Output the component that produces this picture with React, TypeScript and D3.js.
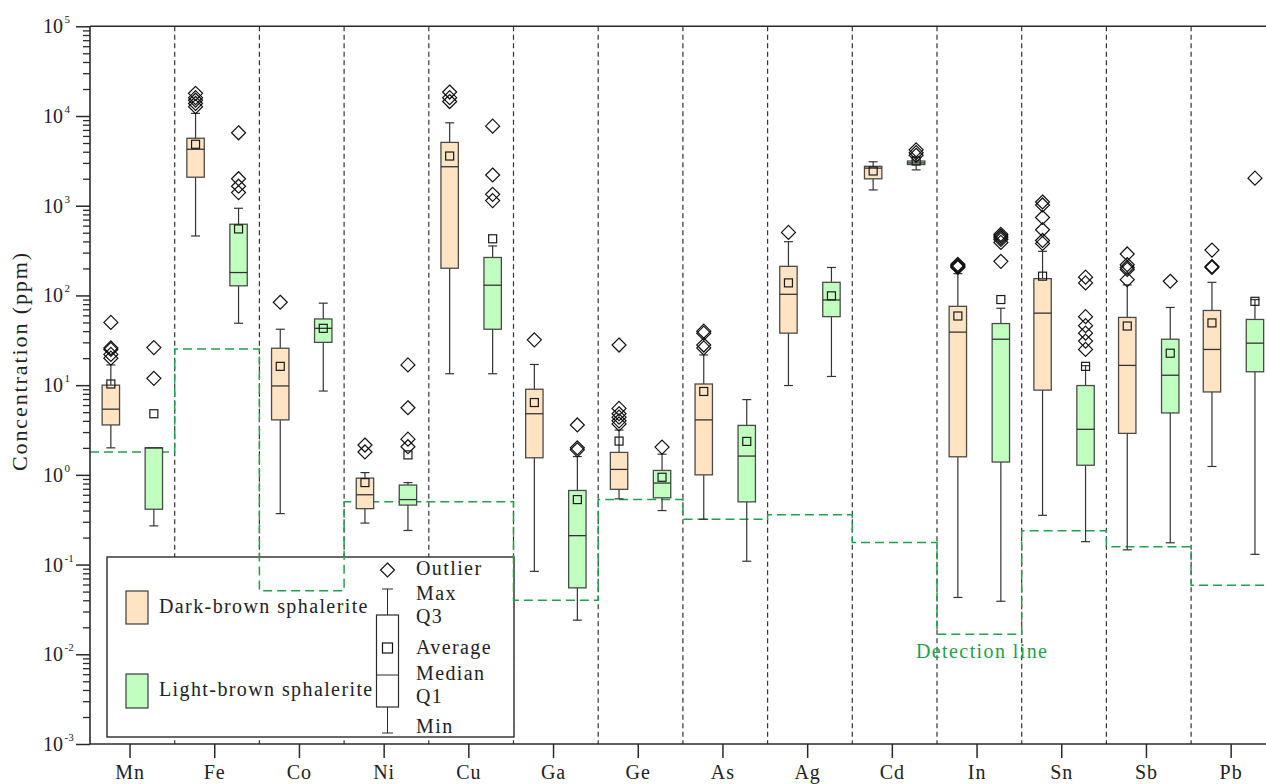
import { useRef, useEffect } from "react";
import * as d3 from "d3";

const categories = ["Mn", "Fe", "Co", "Ni", "Cu", "Ga", "Ge", "As", "Ag", "Cd", "In", "Sn", "Sb", "Pb"];

// Dark-brown sphalerite (ppm)
const darkMin = [2.0, 460, 0.37, 0.29, 13.4, 0.084, 0.54, 0.32, 9.9, 1500, 0.043, 0.354, 0.146, 1.24];
const darkQ1 = [3.6, 2080, 4.1, 0.42, 201, 1.55, 0.69, 1.0, 38, 1995, 1.59, 8.8, 2.9, 8.4];
const darkMedian = [5.4, 4260, 9.8, 0.6, 2720, 4.8, 1.15, 4.1, 103, 2625, 39, 63.5, 16.6, 25];
const darkQ3 = [10.0, 5650, 25.8, 0.92, 5080, 9.0, 1.78, 10.3, 211, 2750, 75.6, 154, 56.9, 68];
const darkMax = [16.8, 10700, 42, 1.06, 8400, 17, 3.16, 21.7, 397, 3090, 175, 310, 131, 140];
const darkMean = [10.3, 4840, 16.2, 0.82, 3580, 6.4, 2.38, 8.5, 138, 2440, 59, 164, 45.6, 49.4];
const darkOutliers = [
  [50, 26, 25, 22, 20], [17900, 16000, 15000, 13800, 12700], [84], [2.15, 1.8],
  [18500, 16000, 14500], [32], [28, 5.5, 4.8, 4.4, 4.0, 3.7], [40, 38, 28, 26], [504], [],
  [222, 215, 210, 205], [1100, 1020, 740, 540, 410, 380], [290, 220, 205, 195, 150], [320, 210, 205],
];

// Light-brown sphalerite (ppm)
const lightMin = [0.27, 49, 8.6, 0.24, 13.4, 0.024, 0.4, 0.109, 12.5, 2510, 0.039, 0.18, 0.175, 0.13];
const lightQ1 = [0.414, 128, 30, 0.46, 42, 0.055, 0.555, 0.5, 58, 2880, 1.39, 1.28, 4.9, 14.1];
const lightMedian = [2.0, 180, 43, 0.53, 130, 0.21, 0.81, 1.62, 89, 3000, 32.5, 3.22, 12.9, 29.4];
const lightQ3 = [2.0, 622, 54.7, 0.77, 265, 0.67, 1.12, 3.56, 140, 3150, 48.6, 9.9, 32.5, 54];
const lightMax = [2.0, 937, 82, 0.82, 356, 1.6, 1.7, 6.9, 205, 3460, 72, 16.5, 73.5, 90];
const lightMean = [4.8, 551, 43, 1.67, 428, 0.53, 0.94, 2.36, 99, 3150, 90, 16.2, 22.7, 86];
const lightOutliers = [
  [26.2, 11.9], [6500, 2000, 1650, 1400], [], [16.8, 5.6, 2.5, 2.06], [7700, 2200, 1340, 1140],
  [3.6, 2.0, 1.9], [2.04], [], [], [4200, 3900, 3650], [480, 460, 440, 420, 390, 240],
  [160, 138, 58, 46, 38, 31, 25], [144], [2030],
];

const detectionLimit = [1.8, 25.3, 0.051, 0.5, 0.5, 0.04, 0.53, 0.32, 0.36, 0.176, 0.0167, 0.239, 0.158, 0.059];
const yExponents = [-3, -2, -1, 0, 1, 2, 3, 4, 5];

const FONT = "'Liberation Serif', 'Times New Roman', serif";
const DARK_FILL = "#ffe4c4";
const LIGHT_FILL = "#c0ffc0";
const GREEN = "#1fa04c";
const INK = "#2a2a2a";

interface Series {
  min: number[]; q1: number[]; median: number[]; q3: number[]; max: number[]; mean: number[];
  outliers: number[][]; fill: string; offset: number;
}

const diamond = "M0,-7L7,0L0,7L-7,0Z";

export default function App() {
  const svgRef = useRef<SVGSVGElement>(null);

  useEffect(() => {
    if (!svgRef.current) return;
    const svg = d3.select(svgRef.current);
    svg.selectAll("*").remove();

    const W = 1266, H = 784;
    const left = 90, top = 26.3, bottom = 744;
    const step = 84.7;
    const right = left + step * categories.length;

    const x = d3.scaleBand<string>().domain(categories).range([left, right]);
    const y = d3.scaleLog().domain([1e-3, 1e5]).range([bottom, top]);
    const cx = (c: string) => (x(c) as number) + x.bandwidth() / 2;

    svg.attr("width", W).attr("height", H);
    const g = svg.append("g");

    // Category separators
    g.append("g").selectAll("line").data(categories.slice(1)).enter().append("line")
      .attr("x1", d => x(d) as number).attr("x2", d => x(d) as number)
      .attr("y1", top).attr("y2", bottom)
      .attr("stroke", "#333").attr("stroke-width", 1.2).attr("stroke-dasharray", "5,3.5");

    // Legend box (under the detection line and the boxes)
    const lg = g.append("g");
    lg.append("rect").attr("x", 107).attr("y", 557).attr("width", 407).attr("height", 180)
      .attr("fill", "#fff").attr("stroke", INK).attr("stroke-width", 1.4);
    lg.append("rect").attr("x", 126).attr("y", 591).attr("width", 22).attr("height", 33)
      .attr("fill", DARK_FILL).attr("stroke", INK).attr("stroke-width", 1.1);
    lg.append("rect").attr("x", 126).attr("y", 674).attr("width", 22).attr("height", 34)
      .attr("fill", LIGHT_FILL).attr("stroke", INK).attr("stroke-width", 1.1);
    lg.append("text").attr("x", 159).attr("y", 613).text("Dark-brown sphalerite");
    lg.append("text").attr("x", 159).attr("y", 696).text("Light-brown sphalerite");
    const gx = 387.5;
    lg.append("path").attr("d", diamond).attr("transform", `translate(${gx},570)`)
      .attr("fill", "none").attr("stroke", "#111").attr("stroke-width", 1.2);
    lg.append("line").attr("x1", gx).attr("x2", gx).attr("y1", 589).attr("y2", 615).attr("stroke", INK);
    lg.append("line").attr("x1", gx).attr("x2", gx).attr("y1", 707).attr("y2", 733).attr("stroke", INK);
    lg.append("line").attr("x1", gx - 5.5).attr("x2", gx + 5.5).attr("y1", 589).attr("y2", 589).attr("stroke", INK);
    lg.append("line").attr("x1", gx - 5.5).attr("x2", gx + 5.5).attr("y1", 733).attr("y2", 733).attr("stroke", INK);
    lg.append("rect").attr("x", gx - 11).attr("y", 615).attr("width", 22).attr("height", 92)
      .attr("fill", "#fff").attr("stroke", INK).attr("stroke-width", 1.2);
    lg.append("line").attr("x1", gx - 11).attr("x2", gx + 11).attr("y1", 675).attr("y2", 675).attr("stroke", INK);
    lg.append("rect").attr("x", gx - 5).attr("y", 643).attr("width", 10).attr("height", 10)
      .attr("fill", "none").attr("stroke", "#111").attr("stroke-width", 1.2);
    const legendLabels: [string, number][] = [
      ["Outlier", 575], ["Max", 600], ["Q3", 623], ["Average", 654], ["Median", 680], ["Q1", 703], ["Min", 733],
    ];
    lg.selectAll("text.lab").data(legendLabels).enter().append("text").attr("class", "lab")
      .attr("x", 416).attr("y", d => d[1]).text(d => d[0]);
    lg.selectAll("text").attr("font-family", FONT).attr("font-size", 20).attr("letter-spacing", 1.4).attr("fill", "#222");

    // Detection line (step across each category band)
    const stepPts: [number, number][] = [];
    categories.forEach((c, i) => {
      stepPts.push([x(c) as number, y(detectionLimit[i])]);
      stepPts.push([(x(c) as number) + x.bandwidth(), y(detectionLimit[i])]);
    });
    g.append("path").datum(stepPts).attr("d", d3.line())
      .attr("fill", "none").attr("stroke", GREEN).attr("stroke-width", 1.5).attr("stroke-dasharray", "9,5");
    g.append("text").attr("x", 916).attr("y", 658).text("Detection line")
      .attr("font-family", FONT).attr("font-size", 20).attr("letter-spacing", 1.4).attr("fill", GREEN);

    // Boxes
    const series: Series[] = [
      { min: darkMin, q1: darkQ1, median: darkMedian, q3: darkQ3, max: darkMax, mean: darkMean, outliers: darkOutliers, fill: DARK_FILL, offset: -21.5 },
      { min: lightMin, q1: lightQ1, median: lightMedian, q3: lightQ3, max: lightMax, mean: lightMean, outliers: lightOutliers, fill: LIGHT_FILL, offset: 21.5 },
    ];
    const bw = 17.4, cap = 4.5;
    series.forEach(s => {
      categories.forEach((c, i) => {
        const xc = cx(c) + s.offset;
        const bg = g.append("g");
        if (s.max[i] > s.q3[i]) {
          bg.append("line").attr("x1", xc).attr("x2", xc).attr("y1", y(s.q3[i])).attr("y2", y(s.max[i]));
          bg.append("line").attr("x1", xc - cap).attr("x2", xc + cap).attr("y1", y(s.max[i])).attr("y2", y(s.max[i]));
        }
        if (s.min[i] < s.q1[i]) {
          bg.append("line").attr("x1", xc).attr("x2", xc).attr("y1", y(s.q1[i])).attr("y2", y(s.min[i]));
          bg.append("line").attr("x1", xc - cap).attr("x2", xc + cap).attr("y1", y(s.min[i])).attr("y2", y(s.min[i]));
        }
        bg.selectAll("line").attr("stroke", "#333").attr("stroke-width", 1.2);
        bg.append("rect").attr("x", xc - bw / 2).attr("width", bw)
          .attr("y", y(s.q3[i])).attr("height", Math.max(1.5, y(s.q1[i]) - y(s.q3[i])))
          .attr("fill", s.fill).attr("stroke", "#4a4a4a").attr("stroke-width", 1.3);
        bg.append("line").attr("x1", xc - bw / 2).attr("x2", xc + bw / 2)
          .attr("y1", y(s.median[i])).attr("y2", y(s.median[i]))
          .attr("stroke", "#333").attr("stroke-width", 1.3);
        bg.append("rect").attr("x", xc - 4).attr("y", y(s.mean[i]) - 4).attr("width", 8).attr("height", 8)
          .attr("fill", "none").attr("stroke", "#1a1a1a").attr("stroke-width", 1.2);
        bg.selectAll("path.out").data(s.outliers[i]).enter().append("path").attr("class", "out")
          .attr("d", diamond).attr("transform", d => `translate(${xc},${y(d)})`)
          .attr("fill", "none").attr("stroke", "#111").attr("stroke-width", 1.2);
      });
    });

    // Frame
    g.append("line").attr("x1", left).attr("x2", left).attr("y1", top).attr("y2", bottom).attr("stroke", INK).attr("stroke-width", 1.6);
    g.append("line").attr("x1", left).attr("x2", right).attr("y1", top).attr("y2", top).attr("stroke", INK).attr("stroke-width", 1.6);
    g.append("line").attr("x1", left).attr("x2", right).attr("y1", bottom).attr("y2", bottom).attr("stroke", INK).attr("stroke-width", 1.6);

    // Y axis ticks
    const allTicks = y.ticks();
    const isMajor = (v: number) => Math.abs(Math.log10(v) - Math.round(Math.log10(v))) < 1e-6;
    g.append("g").attr("transform", `translate(${left},0)`)
      .call(d3.axisLeft(y).tickValues(allTicks.filter(v => !isMajor(v))).tickSize(7).tickFormat(() => ""))
      .call(a => { a.select(".domain").remove(); a.selectAll("line").attr("stroke", INK).attr("stroke-width", 1.3); });
    g.append("g").attr("transform", `translate(${left},0)`)
      .call(d3.axisLeft(y).tickValues(yExponents.map(e => Math.pow(10, e))).tickSize(14).tickFormat(() => ""))
      .call(a => { a.select(".domain").remove(); a.selectAll("line").attr("stroke", INK).attr("stroke-width", 1.5); });
    const yl = g.append("g").attr("font-family", FONT).attr("fill", "#222");
    yExponents.forEach(e => {
      const ty = y(Math.pow(10, e));
      yl.append("text").attr("x", 63).attr("y", ty + 7).attr("text-anchor", "end").attr("font-size", 20).text("10");
      yl.append("text").attr("x", 64.5).attr("y", ty - 3).attr("font-size", 11).text(String(e));
    });
    yl.append("text").attr("transform", `translate(27,361) rotate(-90)`)
      .attr("text-anchor", "middle").attr("font-size", 22).attr("letter-spacing", 1.9).text("Concentration (ppm)");

    // X axis ticks
    g.append("g").attr("transform", `translate(-2.3,${bottom})`)
      .call(d3.axisBottom(x).tickSize(14).tickPadding(7))
      .call(a => {
        a.select(".domain").remove();
        a.selectAll("line").attr("stroke", INK).attr("stroke-width", 1.5);
        a.selectAll("text").attr("font-family", FONT).attr("font-size", 20).attr("fill", "#222")
          .attr("letter-spacing", 1).attr("dy", "0.71em");
      });
  }, []);

  return (
    <div style={{ position: "absolute", left: 0, top: 0, width: 1266, height: 784, overflow: "hidden", background: "#fff" }}>
      <svg ref={svgRef} style={{ display: "block" }} />
    </div>
  );
}
